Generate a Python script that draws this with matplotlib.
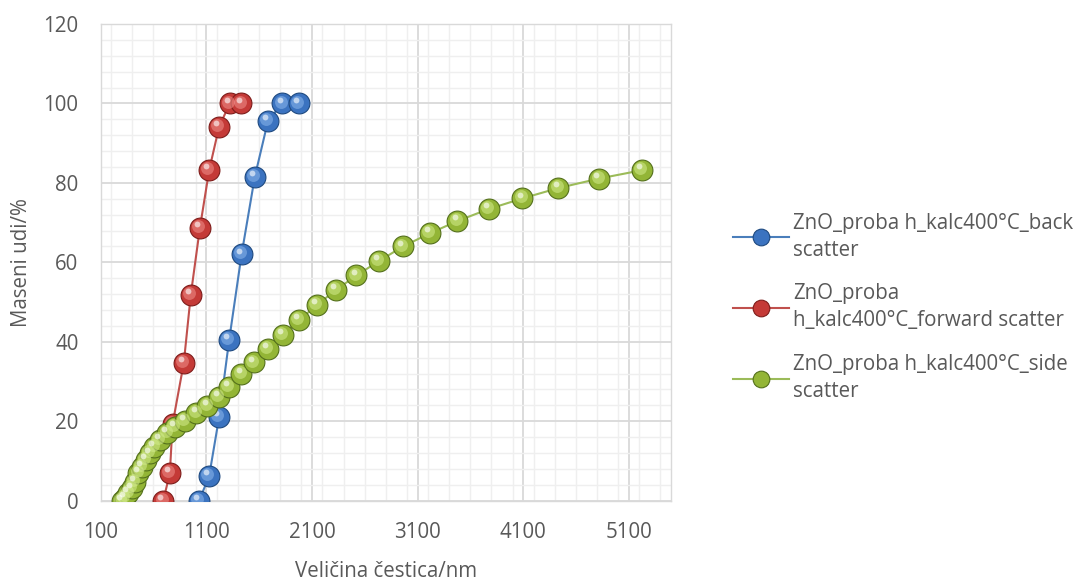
import matplotlib
matplotlib.use("Agg")
import matplotlib.pyplot as plt
import matplotlib.transforms as mtransforms
from matplotlib.ticker import MultipleLocator, FixedLocator
import numpy as np

plt.rcParams['font.family'] = ['Open Sans', 'DejaVu Sans']

# ---- data ----
back_x = [1032, 1127, 1221, 1316, 1434, 1559, 1684, 1820, 1977]
back_y = [0, 6.2, 21.0, 40.4, 62.0, 81.5, 95.6, 100, 100]

fwd_x = [692, 755, 780, 887, 953, 1039, 1127, 1221, 1322, 1433]
fwd_y = [0, 6.9, 19.2, 34.7, 51.8, 68.6, 83.2, 94.1, 100, 100]

side_x = [298, 330, 361, 393, 424, 456, 488, 528, 566, 607, 660, 730, 802, 897,
          1007, 1111, 1218, 1316, 1433, 1552, 1684, 1822, 1977, 2145, 2324,
          2522, 2733, 2962, 3216, 3477, 3772, 4093, 4433, 4820, 5226]
side_y = [0, 0.6, 1.9, 3.1, 4.8, 6.9, 8.6, 10.2, 11.9, 13.6, 15.3, 17.0, 18.6,
          20.1, 22.0, 23.8, 26.2, 28.7, 31.8, 34.8, 38.1, 41.8, 45.4, 49.2,
          53.0, 56.7, 60.3, 64.0, 67.3, 70.4, 73.4, 76.1, 78.7, 81.1, 83.2]

labels = ["ZnO_proba h_kalc400°C_back\nscatter",
          "ZnO_proba\nh_kalc400°C_forward scatter",
          "ZnO_proba h_kalc400°C_side\nscatter"]

x_ticks = [100, 1100, 2100, 3100, 4100, 5100]
y_ticks = [0, 20, 40, 60, 80, 100, 120]

# colours: line, marker base, marker edge, highlight
styles = [
    ("#4a7ebb", "#3b73c0", "#1f4a80", "#8db8ec"),
    ("#c0504d", "#c43a37", "#7e1d1b", "#f0908c"),
    ("#9bbb59", "#93b536", "#54701c", "#d3ec8c"),
]

FS = 14.8
TXT = '#595959'

fig = plt.figure(figsize=(10.92, 5.81), dpi=100)
ax = fig.add_axes([0.0922, 0.1382, 0.5223, 0.8205])

ms = 15
series = [(back_x, back_y), (fwd_x, fwd_y), (side_x, side_y)]
handles = []
for i, ((xs, ys), (lc, mc, ec, hc)) in enumerate(zip(series, styles)):
    z = 3 + i * 3
    h, = ax.plot(xs, ys, color=lc, lw=1.5, marker='o', ms=ms,
                 markerfacecolor=mc, markeredgecolor=ec, markeredgewidth=0.8,
                 zorder=z, label=labels[i])
    handles.append(h)
    t1 = mtransforms.offset_copy(ax.transData, fig=fig, x=-1.2, y=1.4, units='points')
    ax.plot(xs, ys, ls='none', marker='o', ms=ms * 0.62, markerfacecolor=hc,
            markeredgecolor='none', alpha=0.55, transform=t1, zorder=z + 0.5)
    t2 = mtransforms.offset_copy(ax.transData, fig=fig, x=-2.0, y=2.8, units='points')
    ax.plot(xs, ys, ls='none', marker='o', ms=ms * 0.28, markerfacecolor='white',
            markeredgecolor='none', alpha=0.6, transform=t2, zorder=z + 0.6)

ax.set_xlim(100, 5500)
ax.set_ylim(0, 120)
ax.xaxis.set_major_locator(FixedLocator(x_ticks))
ax.xaxis.set_minor_locator(MultipleLocator(200))
ax.yaxis.set_major_locator(FixedLocator(y_ticks))
ax.yaxis.set_minor_locator(MultipleLocator(4))
ax.grid(which='major', color='#d9d9d9', lw=1.3, zorder=0)
ax.grid(which='minor', color='#efefef', lw=1.0, zorder=0)
ax.set_axisbelow(True)
ax.tick_params(which='both', length=0, labelsize=FS, colors=TXT)
ax.tick_params(axis='x', pad=15)
ax.tick_params(axis='y', pad=16)
for s in ax.spines.values():
    s.set_color('#d9d9d9')
    s.set_linewidth(1.0)

ax.set_xlabel("Veličina čestica/nm", fontsize=FS, color=TXT, labelpad=13)
ax.set_ylabel("Maseni udi/%", fontsize=FS, color=TXT, labelpad=8)

leg = fig.legend(handles=handles, labels=labels, loc='center left',
                 bbox_to_anchor=(0.654, 0.471), frameon=False, fontsize=FS,
                 labelcolor=TXT, handlelength=2.75, handletextpad=0.2,
                 labelspacing=1.1, markerscale=0.8)
for t in leg.get_texts():
    t.set_linespacing(1.38)

fig.savefig("out.png", dpi=100)
